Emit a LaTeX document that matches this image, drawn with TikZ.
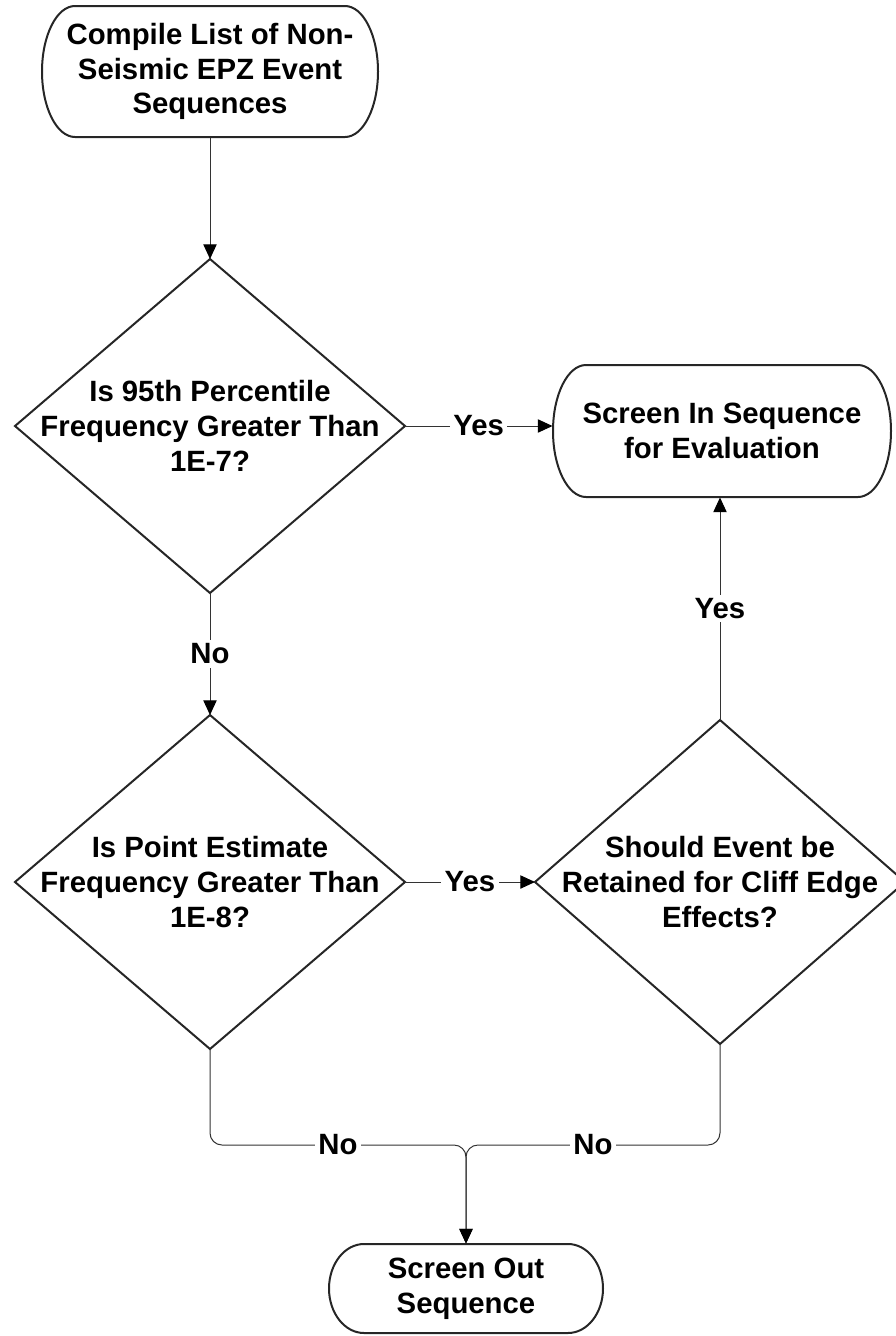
\documentclass[tikz,border=0pt]{standalone}
\usepackage{fontspec}
\setmainfont{Liberation Sans}
\usetikzlibrary{shapes.geometric,arrows.meta}

\tikzset{
	flowtext/.style={font=\fontsize{22}{26}\selectfont\bfseries, align=center},
	terminal/.style={flowtext, inner sep=0pt},
	decision/.style={diamond, draw=black!85, line width=1.5pt, inner sep=0pt, outer sep=0pt},
	shapeline/.style={draw=black!85, line width=1.5pt},
	flowline/.style={draw=black!80, line width=0.75pt, -{Triangle[length=11pt,width=10pt,color=black]}},
	edgelabel/.style={flowtext, fill=white, inner sep=2.5pt}}
\tikzset{every picture/.style={line width=0.75pt}}

\begin{document}
\begin{tikzpicture}[x=0.75pt,y=0.75pt,yscale=-1,xscale=1]
	\useasboundingbox (0,0) rectangle (896,1336);

	%Shape: Terminator [id:start] 
	\draw [shapeline] (75,6) -- (345,6) .. controls (363.2,6) and (378,35.3) .. (378,71.5) .. controls (378,107.7) and (363.2,137) .. (345,137) -- (75,137) .. controls (56.8,137) and (42,107.7) .. (42,71.5) .. controls (42,35.3) and (56.8,6) .. (75,6) -- cycle ;
	%Shape: Terminator [id:screenin] 
	\draw [shapeline] (586,365) -- (858,365) .. controls (876.2,365) and (891,394.5) .. (891,431) .. controls (891,467.5) and (876.2,497) .. (858,497) -- (586,497) .. controls (567.8,497) and (553,467.5) .. (553,431) .. controls (553,394.5) and (567.8,365) .. (586,365) -- cycle ;
	%Shape: Terminator [id:screenout] 
	\draw [shapeline] (364,1244) -- (568,1244) .. controls (587.3,1244) and (603,1263.9) .. (603,1288.5) .. controls (603,1313.1) and (587.3,1333) .. (568,1333) -- (364,1333) .. controls (344.7,1333) and (329,1313.1) .. (329,1288.5) .. controls (329,1263.9) and (344.7,1244) .. (364,1244) -- cycle ;

	% Text Node
	\node [terminal, minimum width=252pt, minimum height=98.25pt] (s) at (210,71.5) {Compile List of Non-\\Seismic EPZ Event\\Sequences};
	% Text Node
	\node [terminal, minimum width=253.5pt, minimum height=99pt] (si) at (722,431) {Screen In Sequence\\for Evaluation};
	% Text Node
	\node [terminal, minimum width=205.5pt, minimum height=66.75pt] (so) at (466,1288.5) {Screen Out\\Sequence};

	%Shape: Diamond [id:d1] 
	\node [decision, minimum width=292.5pt, minimum height=250.5pt,
		label={[flowtext, name=d1t]center:Is 95th Percentile\\Frequency Greater Than\\1E-7?}] (d1) at (210,426) {};
	%Shape: Diamond [id:d2] 
	\node [decision, minimum width=292.5pt, minimum height=250.5pt,
		label={[flowtext, name=d2t]center:Is Point Estimate\\Frequency Greater Than\\1E-8?}] (d2) at (210,882) {};
	%Shape: Diamond [id:d3] 
	\node [decision, minimum width=277.5pt, minimum height=243pt,
		label={[flowtext, name=d3t]center:Should Event be\\Retained for Cliff Edge\\Effects?}] (d3) at (720,882) {};

	\coordinate (merge) at (466,1145);

	%Straight Lines [id:s-d1] 
	\draw [flowline] (s.south) -- (d1.north);
	%Straight Lines [id:d1-si] 
	\draw [flowline] (d1.east) -- node[edgelabel] {Yes} (d1.east -| si.west);
	%Straight Lines [id:d1-d2] 
	\draw [flowline] (d1.south) -- node[edgelabel] {No} (d2.north);
	%Straight Lines [id:d2-d3] 
	\draw [flowline] (d2.east) -- node[edgelabel] {Yes} (d3.west);
	%Straight Lines [id:d3-si] 
	\draw [flowline] (d3.north) -- node[edgelabel] {Yes} (d3.north |- si.south);
	%Curve Lines [id:d2-so] 
	\draw [flowline, rounded corners=9pt] (d2.south) |- node[edgelabel, pos=0.75] {No} (merge) -- (so.north);
	%Curve Lines [id:d3-so] 
	\draw [flowline, rounded corners=9pt] (d3.south) |- node[edgelabel, pos=0.75] {No} (merge) -- (so.north);

\end{tikzpicture}
\end{document}
